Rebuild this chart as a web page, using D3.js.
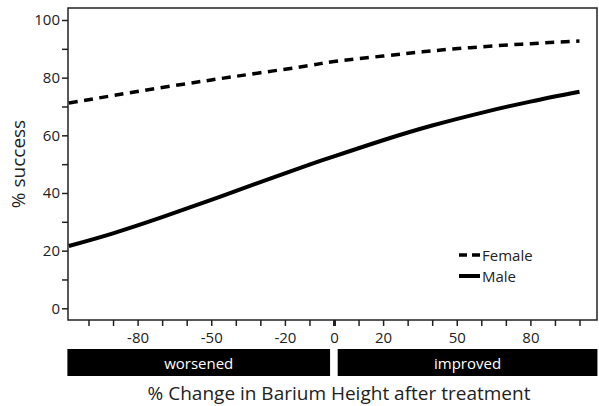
<!DOCTYPE html>
<html>
<head>
<meta charset="utf-8">
<script src="https://cdn.jsdelivr.net/npm/d3@7"></script>
<style>
  body { margin: 0; background: #fff; }
  text { font-family: "Open Sans", "DejaVu Sans", sans-serif; }
</style>
</head>
<body>
<div id="chart"></div>
<script>
// values
const changeX = [-108, -90, -70, -50, -30, -10, 0, 20, 40, 60, 80, 100]
const female = [71.2, 73.8, 76.6, 79.2, 81.7, 84.2, 85.6, 87.5, 89.3, 90.7, 91.8, 92.7]
const male = [21.6, 26.0, 31.6, 37.6, 43.8, 49.8, 52.7, 58.3, 63.4, 67.8, 71.7, 75.1]
const xTicks = [-100, -90, -80, -70, -60, -50, -40, -30, -20, -10, 0, 10, 20, 30, 40, 50, 60, 70, 80, 90, 100]
const xLabels = [-80, -50, -20, 0, 20, 50, 80]
const yTicks = [0, 10, 20, 30, 40, 50, 60, 70, 80, 90, 100]
const yLabels = [0, 20, 40, 60, 80, 100]
const bands = [
  { label: 'worsened', from: -108.6, to: -1.6 },
  { label: 'improved', from: 1.5, to: 107.3 }
]

const width = 599, height = 406
const plot = { left: 68, right: 597, top: 8, bottom: 320 }

const svg = d3.select('#chart')
  .append('svg')
  .attr('width', width)
  .attr('height', height)

const x = d3.scaleLinear().domain([-100, 100]).range([88.5, 579.5])
const y = d3.scaleLinear().domain([0, 100]).range([308.3, 20])

// frame
svg.append('rect')
  .attr('x', plot.left)
  .attr('y', plot.top)
  .attr('width', plot.right - plot.left)
  .attr('height', plot.bottom - plot.top)
  .attr('fill', 'none')
  .attr('stroke', '#222')
  .attr('stroke-width', 1.5)

const yAxis = d3.axisLeft(y)
  .tickValues(yTicks)
  .tickSize(6)
  .tickFormat(d => yLabels.includes(d) ? d : '')

svg.append('g')
  .attr('class', 'y axis')
  .attr('transform', 'translate(' + plot.left + ',0)')
  .call(yAxis)
  .call(g => g.select('.domain').remove())
  .call(g => g.selectAll('line').attr('stroke', '#222').attr('stroke-width', 1.5))
  .call(g => g.selectAll('text').attr('font-size', 15).attr('fill', '#222').attr('x', -8))

const xAxis = d3.axisBottom(x)
  .tickValues(xTicks)
  .tickSize(6)
  .tickFormat(d => xLabels.includes(d) ? d : '')

svg.append('g')
  .attr('class', 'x axis')
  .attr('transform', 'translate(0,' + plot.bottom + ')')
  .call(xAxis)
  .call(g => g.select('.domain').remove())
  .call(g => g.selectAll('line').attr('stroke', '#222').attr('stroke-width', d => d === 0 ? 3 : 1.5))
  .call(g => g.selectAll('text').attr('font-size', 15).attr('fill', '#222').attr('y', 12))

// worsened / improved bands
const band = svg.selectAll('g.band')
  .data(bands)
  .enter()
  .append('g')
  .classed('band', true)

band.append('rect')
  .attr('x', d => x(d.from))
  .attr('y', 349)
  .attr('width', d => x(d.to) - x(d.from))
  .attr('height', 27)
  .attr('fill', '#000')

band.append('text')
  .attr('x', d => (x(d.from) + x(d.to)) / 2)
  .attr('y', 362.5)
  .attr('text-anchor', 'middle')
  .attr('dominant-baseline', 'central')
  .attr('font-size', 15)
  .attr('fill', '#fff')
  .text(d => d.label)

const line = d3.line()
  .x(d => x(d[0]))
  .y(d => y(d[1]))
  .curve(d3.curveNatural)

svg.append('path')
  .datum(changeX.map((c, i) => [c, female[i]]))
  .attr('d', line)
  .attr('fill', 'none')
  .attr('stroke', '#000')
  .attr('stroke-width', 3.5)
  .attr('stroke-dasharray', '9,6.5')

svg.append('path')
  .datum(changeX.map((c, i) => [c, male[i]]))
  .attr('d', line)
  .attr('fill', 'none')
  .attr('stroke', '#000')
  .attr('stroke-width', 4)

// legend
const legend = svg.append('g').attr('transform', 'translate(459,255)')
legend.append('line')
  .attr('x1', 0).attr('x2', 21).attr('y1', 0).attr('y2', 0)
  .attr('stroke', '#000').attr('stroke-width', 3.5)
  .attr('stroke-dasharray', '8,5')
legend.append('line')
  .attr('x1', 0).attr('x2', 21).attr('y1', 21).attr('y2', 21)
  .attr('stroke', '#000').attr('stroke-width', 4)
legend.selectAll('text')
  .data(['Female', 'Male'])
  .enter()
  .append('text')
  .attr('x', 23)
  .attr('y', (d, i) => i * 21)
  .attr('dominant-baseline', 'central')
  .attr('font-size', 15)
  .attr('fill', '#222')
  .text(d => d)

// axis titles
svg.append('text')
  .attr('x', 339)
  .attr('y', 393)
  .attr('text-anchor', 'middle')
  .attr('dominant-baseline', 'central')
  .attr('font-size', 19)
  .attr('fill', '#222')
  .text('% Change in Barium Height after treatment')

svg.append('text')
  .attr('transform', 'translate(18,164) rotate(-90)')
  .attr('text-anchor', 'middle')
  .attr('dominant-baseline', 'central')
  .attr('font-size', 19)
  .attr('fill', '#222')
  .text('% success')
</script>
</body>
</html>
